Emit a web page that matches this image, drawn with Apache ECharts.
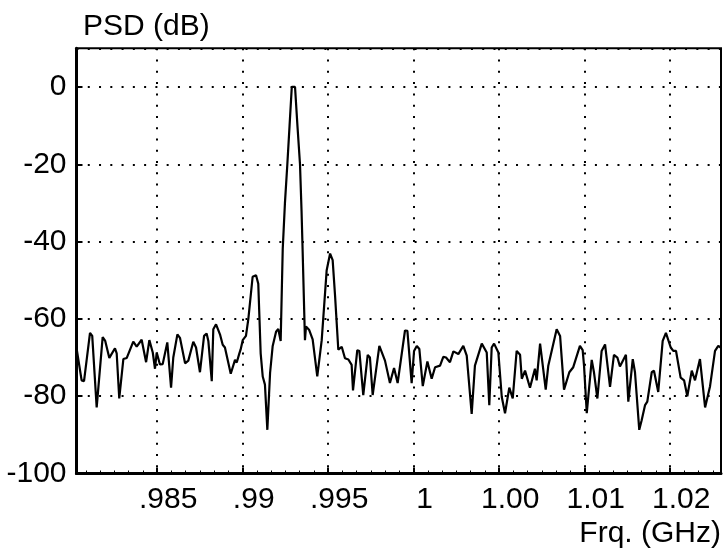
<!DOCTYPE html>
<html><head><meta charset="utf-8">
<script src="https://cdn.jsdelivr.net/npm/echarts@6/dist/echarts.min.js"></script>
<style>html,body{margin:0;padding:0;background:#fff}#c{width:726px;height:555px}</style>
</head><body><div id="c"></div>
<script>
// Frequency (GHz) of each trace vertex
const freqGHz = [
0.98029,0.98058,0.98072,0.98107,0.98120,0.98146,0.98181,0.98196,0.98220,0.98230,
0.98253,0.98263,0.98278,0.98287,0.98302,0.98322,0.98360,0.98380,0.98389,0.98409,
0.98435,0.98454,0.98474,0.98487,0.98497,0.98506,0.98516,0.98532,0.98559,0.98581,
0.98594,0.98618,0.98633,0.98663,0.98682,0.98711,0.98727,0.98750,0.98774,0.98789,
0.98799,0.98819,0.98828,0.98844,0.98867,0.98883,0.98896,0.98930,0.98955,0.98965,
0.98980,0.98988,0.99000,0.99019,0.99033,0.99058,0.99078,0.99091,0.99105,0.99117,
0.99130,0.99144,0.99160,0.99175,0.99195,0.99208,0.99222,0.99234,0.99247,0.99261,
0.99274,0.99287,0.99306,0.99320,0.99335,0.99344,0.99349,0.99364,0.99370,0.99389,
0.99409,0.99436,0.99462,0.99491,0.99511,0.99526,0.99540,0.99559,0.99579,0.99598,
0.99618,0.99637,0.99645,0.99670,0.99682,0.99705,0.99731,0.99744,0.99760,0.99799,
0.99832,0.99861,0.99885,0.99906,0.99949,0.99963,0.99988,1.00002,1.00018,1.00033,
1.00053,1.00080,1.00105,1.00125,1.00154,1.00173,1.00189,1.00212,1.00232,1.00261,
1.00290,1.00310,1.00339,1.00358,1.00398,1.00427,1.00442,1.00456,1.00470,1.00495,
1.00515,1.00534,1.00559,1.00579,1.00602,1.00622,1.00632,1.00651,1.00680,1.00709,
1.00719,1.00739,1.00749,1.00772,1.00787,1.00797,1.00836,1.00856,1.00879,1.00910,
1.00933,1.00972,1.00988,1.00996,1.01012,1.01041,1.01054,1.01074,1.01099,1.01119,
1.01148,1.01171,1.01191,1.01206,1.01241,1.01255,1.01281,1.01294,1.01319,1.01333,
1.01353,1.01366,1.01392,1.01405,1.01430,1.01456,1.01475,1.01503,1.01518,1.01534,
1.01561,1.01581,1.01600,1.01626,1.01645,1.01674,1.01704,1.01733,1.01762,1.01781,
1.01795
];
// PSD (dB) at each vertex
const psdDb = [
-67.8,-75.9,-76.1,-63.6,-64.4,-82.9,-64.7,-65.7,-70.1,-70.6,
-67.6,-68.9,-80.6,-80.2,-70.4,-70.1,-65.9,-67.2,-67.4,-65.4,
-71.2,-65.5,-68.7,-72.9,-68.7,-69.1,-71.8,-71.7,-66.1,-77.8,
-70.0,-64.0,-64.9,-71.5,-70.8,-65.9,-67.4,-73.8,-64.4,-63.8,
-65.7,-76.1,-62.7,-61.4,-64.0,-66.7,-67.4,-74.2,-70.6,-71.3,
-69.0,-67.9,-65.5,-64.4,-60.0,-49.1,-48.7,-50.9,-68.9,-74.9,
-77.0,-88.7,-74.0,-67.1,-63.3,-62.6,-65.7,-42.0,-30.0,-20.0,
-10.0,0.0,0.0,-10.0,-20.0,-32.0,-40.0,-65.5,-62.0,-62.9,
-65.3,-74.9,-65.5,-47.4,-43.1,-44.8,-54.0,-68.0,-67.2,-70.2,
-70.5,-71.9,-78.5,-68.1,-68.3,-79.7,-69.3,-70.0,-79.7,-67.0,
-70.8,-76.6,-72.7,-76.6,-63.0,-63.1,-76.6,-68.3,-67.0,-67.8,
-77.4,-71.0,-75.5,-72.5,-72.1,-69.8,-70.0,-71.2,-68.4,-69.1,
-67.0,-69.5,-84.6,-72.1,-66.4,-68.7,-82.3,-67.4,-66.4,-68.7,
-80.2,-84.4,-77.8,-80.6,-68.3,-69.3,-75.5,-73.4,-77.8,-72.9,
-75.9,-66.4,-66.6,-78.3,-72.1,-72.5,-62.7,-64.4,-78.3,-73.8,
-72.5,-67.0,-68.1,-72.1,-84.4,-70.6,-73.8,-80.6,-68.3,-66.6,
-77.6,-69.3,-70.0,-72.3,-69.3,-81.4,-70.4,-73.8,-88.7,-86.2,
-82.3,-81.4,-73.8,-73.4,-78.9,-65.7,-63.6,-67.4,-68.3,-68.3,
-75.2,-75.9,-80.0,-73.4,-75.9,-70.4,-82.9,-77.4,-68.3,-67.0,
-67.4
];
const xTickValues = [0.985, 0.99, 0.995, 1.0, 1.005, 1.01, 1.015];
const xTickLabels = ['.985', '.99', '.995', '1', '1.00', '1.01', '1.02'];
const xMin = 0.98028, xMax = 1.01797, xStep = 0.005;
const yMin = -100, yMax = 10, yStep = 20;
const yAxisTitle = 'PSD (dB)';
const xAxisTitle = 'Frq. (GHz)';

const FONT = '"Liberation Sans", Arial, Helvetica, sans-serif';
const chart = echarts.init(document.getElementById('c'), null, {renderer: 'canvas'});
const dotted = {color: '#000', width: 2, type: [2, 9.27]};
chart.setOption({
  animation: false,
  backgroundColor: '#fff',
  title: [
    {text: yAxisTitle, left: 78, top: 7, textStyle: {fontFamily: FONT, fontSize: 30, fontWeight: 'normal', color: '#000'}},
    {text: xAxisTitle, right: 0, top: 514, textStyle: {fontFamily: FONT, fontSize: 30, fontWeight: 'normal', color: '#000'}}
  ],
  grid: {left: 76.5, top: 48.3, width: 644.5, height: 425.2, show: true, borderColor: '#000', borderWidth: 2, containLabel: false},
  xAxis: {
    type: 'value', min: xMin, max: xMax, splitNumber: 7, minInterval: xStep, maxInterval: xStep,
    axisLine: {show: true, onZero: false, lineStyle: {color: '#000', width: 3}},
    axisTick: {show: true, inside: true, length: 6, lineStyle: {color: '#000', width: 2}},
    minorTick: {show: true, splitNumber: 6, length: 3, lineStyle: {color: '#000', width: 1}},
    splitLine: {show: true, lineStyle: dotted},
    axisLabel: {
      fontFamily: FONT, fontSize: 30, color: '#000', margin: 11, padding: [0, 0, 0, 22],
      showMinLabel: false, showMaxLabel: false,
      formatter: function (v) {
        for (let i = 0; i < xTickValues.length; i++) {
          if (Math.abs(v - xTickValues[i]) < 1e-7) return xTickLabels[i];
        }
        return '';
      }
    }
  },
  yAxis: {
    type: 'value', min: yMin, max: yMax, interval: yStep,
    axisLine: {show: true, onZero: false, lineStyle: {color: '#000', width: 3}},
    axisTick: {show: true, inside: true, length: 6, lineStyle: {color: '#000', width: 2}},
    splitLine: {show: true, lineStyle: dotted},
    axisLabel: {fontFamily: FONT, fontSize: 30, color: '#000', margin: 10, showMaxLabel: false,
      formatter: function (v) { return (v > 0) ? '' : String(v); }}
  },
  series: [{
    type: 'line',
    data: freqGHz.map((f, i) => [f, psdDb[i]]),
    showSymbol: false, symbol: 'none', smooth: false,
    lineStyle: {color: '#000', width: 2.2},
    clip: true
  }]
});
</script>
</body></html>
